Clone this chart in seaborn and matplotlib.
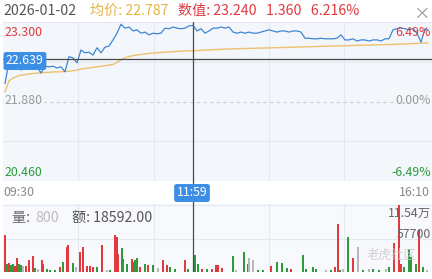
import matplotlib
matplotlib.use("Agg")
import numpy as np
import pandas as pd
import seaborn as sns
import matplotlib.pyplot as plt

# ---------------- data ----------------
trade_date = "2026-01-02"
time_labels = ["09:30", "11:59", "16:10"]
cursor_minute = 188
cursor_price = 22.639
cursor_avg = 22.787
cursor_value = 23.240
cursor_change = 1.360
cursor_pct = "6.216%"
prev_close = 21.880
price_high = 23.300
price_low = 20.460
pct_labels = ["6.49%", "0.00%", "-6.49%"]
cursor_vol = 800
cursor_amount = "18592.00"
vol_max_label = "11.54万"
vol_mid_label = "57700"
vol_max = 115400

price = [22.20, 22.59, 22.48, 22.55, 22.44, 22.51, 22.48, 22.51, 22.50, 22.39,
         22.51, 22.50, 22.51, 22.48, 22.50, 22.41, 22.68, 22.66, 22.57, 22.80,
         22.75, 22.76, 22.71, 22.84, 22.75, 22.85, 22.87, 22.98, 23.10, 23.26,
         23.19, 23.21, 23.14, 23.16, 23.10, 23.12, 23.07, 23.10, 23.09, 23.10,
         23.19, 23.18, 23.21, 23.19, 23.18, 23.19, 23.23, 23.24, 23.14, 23.18,
         23.10, 23.14, 23.19, 23.19, 23.21, 23.19, 23.21, 23.12, 23.10, 23.12,
         23.10, 23.12, 23.10, 23.10, 23.12, 23.14, 23.16, 23.14, 23.12, 23.14,
         23.14, 23.12, 23.14, 23.14, 23.12, 23.01, 23.01, 23.00, 23.00, 23.01,
         23.00, 23.00, 23.00, 23.01, 23.07, 22.98, 22.98, 23.00, 22.96, 22.98,
         22.98, 22.96, 22.98, 22.98, 22.96, 23.00, 23.00, 23.16, 23.18, 23.19,
         23.18, 23.16, 23.18, 23.10, 22.94, 23.18, 23.16]

avg_price = [22.05, 22.25, 22.30, 22.33, 22.35, 22.36, 22.37, 22.38, 22.39, 22.39,
             22.40, 22.40, 22.41, 22.41, 22.41, 22.42, 22.42, 22.43, 22.44, 22.46,
             22.47, 22.48, 22.49, 22.50, 22.51, 22.52, 22.53, 22.54, 22.58, 22.62,
             22.66, 22.68, 22.70, 22.71, 22.72, 22.73, 22.74, 22.745, 22.75, 22.755,
             22.76, 22.765, 22.77, 22.775, 22.78, 22.783, 22.786, 22.787, 22.79, 22.795,
             22.80, 22.80, 22.805, 22.81, 22.812, 22.815, 22.817, 22.82, 22.822, 22.824,
             22.826, 22.828, 22.83, 22.832, 22.834, 22.836, 22.838, 22.84, 22.842, 22.844,
             22.846, 22.848, 22.85, 22.852, 22.854, 22.856, 22.858, 22.86, 22.862, 22.864,
             22.866, 22.868, 22.87, 22.872, 22.874, 22.876, 22.878, 22.88, 22.882, 22.884,
             22.886, 22.888, 22.89, 22.892, 22.894, 22.896, 22.898, 22.90, 22.903, 22.906,
             22.909, 22.912, 22.915, 22.918, 22.921, 22.925, 22.928]

price_minutes = list(range(0, 424, 4)) + [423]

vol_minutes = [0, 2, 4, 6, 8, 10, 12, 14, 16, 18, 21, 24, 28, 30, 33, 37, 38, 42, 45, 50,
               55, 58, 62, 63, 68, 71, 75, 78, 82, 85, 88, 92, 97, 102, 105, 110, 112, 113,
               117, 118, 122, 127, 128, 130, 132, 135, 140, 143, 148, 153, 158, 162, 165,
               170, 180, 183, 190, 193, 197, 202, 207, 211, 213, 217, 228, 231, 239, 243,
               244, 248, 253, 258, 266, 272, 277, 282, 286, 298, 301, 308, 311, 321, 326,
               330, 333, 335, 338, 343, 348, 353, 358, 364, 368, 374, 381, 384, 389, 394,
               396, 399, 404, 406, 411, 414, 418, 422]
vol_values = [63700, 13800, 15500, 12000, 13800, 10300, 24100, 13800, 12000, 10300,
              10300, 20700, 27500, 6900, 5200, 20700, 13800, 5200, 3400, 3400,
              8600, 17200, 43000, 46500, 15500, 8600, 34400, 43000, 10300, 10300,
              8600, 8600, 46500, 3400, 3400, 63700, 60300, 31000, 41300, 22400,
              13800, 22400, 17200, 20700, 24100, 8600, 13800, 12000, 12000, 6900,
              20700, 12000, 8600, 5200, 20700, 5200, 29300, 13800, 5200, 5200,
              5200, 12000, 12000, 6900, 27500, 3400, 34400, 13800, 24100, 20700,
              3400, 3400, 10300, 17200, 15500, 6900, 5200, 29300, 5200, 8600,
              5200, 3400, 3400, 8600, 82600, 3400, 5200, 60300, 24100, 43000,
              3400, 5200, 5200, 3400, 5200, 8600, 49900, 115400, 13800, 8600,
              39600, 25800, 13800, 72300, 8600, 3400]
vol_dir = ["up", "down", "up", "down", "down", "up", "up", "down", "down", "flat",
           "up", "up", "up", "down", "flat", "up", "up", "down", "down", "down",
           "up", "down", "up", "up", "down", "flat", "up", "up", "up", "up",
           "up", "down", "up", "flat", "down", "up", "up", "up", "down", "down",
           "down", "up", "up", "down", "down", "up", "down", "up", "down", "flat",
           "up", "up", "down", "down", "up", "down", "down", "down", "up", "down",
           "up", "up", "up", "up", "down", "flat", "down", "down", "flat", "flat",
           "down", "down", "up", "down", "down", "down", "up", "down", "down", "down",
           "down", "flat", "down", "up", "up", "down", "flat", "down", "up", "flat",
           "down", "flat", "down", "down", "flat", "down", "up", "up", "up", "down",
           "down", "down", "down", "up", "down", "flat"]

# ---------------- styling ----------------
RED = "#e0393e"
GREEN = "#2f9a3c"
GRAY_TXT = "#9a9a9a"
BLUE = "#3e86d4"
YELLOW = "#efc06e"
BOX_BLUE = "#3b8ee6"
BG = "#f3f7fc"
GRID = "#e4e9f1"
dir_colors = {"up": RED, "down": GREEN, "flat": "#b8b8b8"}

sns.set_theme(style="white")
plt.rcParams['font.family'] = ['Noto Sans CJK SC', 'DejaVu Sans']

W, H = 432, 279
fig = plt.figure(figsize=(W / 100, H / 100), dpi=100)
fig.patch.set_facecolor("white")

def fx(px):
    return px / W

def fy(py):
    return 1 - py / H

XMIN, XMAX = -2, 427
grid_minutes = [73, 149, 264, 339]

# price panel
axp = fig.add_axes([fx(3), fy(181), 429 / W, 159 / H])
axp.set_facecolor(BG)
axp.set_xlim(XMIN, XMAX)
axp.set_ylim(price_low, price_high)
q = (price_high - price_low) / 4
for lv in [price_high, price_high - q, price_low + q]:
    axp.axhline(lv, color=GRID, lw=0.8, zorder=0)
axp.axhline(prev_close, color="#c9cdd3", lw=0.8, ls=(0, (3, 3)), zorder=1)
for gm in grid_minutes:
    axp.axvline(gm, color=GRID, lw=0.8, zorder=0)

df_p = pd.DataFrame({"minute": price_minutes, "price": price, "avg": avg_price})
sns.lineplot(data=df_p, x="minute", y="avg", ax=axp, color=YELLOW, lw=1.0, zorder=3)
sns.lineplot(data=df_p, x="minute", y="price", ax=axp, color=BLUE, lw=0.9, zorder=4)
axp.axhline(cursor_price, color="#4a4a4a", lw=0.9, zorder=5)
axp.set_xlabel("")
axp.set_ylabel("")
axp.set_xticks([])
axp.set_yticks([])
for s in axp.spines.values():
    s.set_visible(False)

# volume panel
axv = fig.add_axes([fx(3), fy(272), 429 / W, 68 / H])
axv.set_facecolor("#f7f9fd")
axv.set_xlim(XMIN, XMAX)
axv.set_ylim(0, vol_max * 68 / 67)
for gm in grid_minutes:
    axv.axvline(gm, color=GRID, lw=0.8, zorder=0)
axv.axhline(vol_max / 2, color=GRID, lw=0.8, zorder=0)
axv.axhline(vol_max, color=GRID, lw=0.8, zorder=0)
df_v = pd.DataFrame({"minute": vol_minutes, "vol": vol_values, "dir": vol_dir})
axv.bar(df_v["minute"], df_v["vol"], width=1.3,
        color=[dir_colors[d] for d in df_v["dir"]], linewidth=0, zorder=2)
axv.set_xticks([])
axv.set_yticks([])
for s in axv.spines.values():
    s.set_visible(False)

# crosshair vertical line across both panels
axc = fig.add_axes([fx(3), fy(272), 429 / W, 250 / H])
axc.set_xlim(XMIN, XMAX)
axc.axis("off")
axc.patch.set_alpha(0)
axc.axvline(cursor_minute, color="#4a4a4a", lw=0.9)

# ---------------- texts ----------------
fs = 10.2
fig.text(fx(3), fy(11), trade_date, color="#555555", fontsize=fs, va="center", ha="left")
fig.text(fx(90), fy(11), f"均价: {cursor_avg:.3f}", color="#e4b548", fontsize=fs, va="center", ha="left")
fig.text(fx(178), fy(11), f"数值: {cursor_value:.3f}   {cursor_change:.3f}   {cursor_pct}",
         color=RED, fontsize=fs, va="center", ha="left")
fig.text(fx(421), fy(14), "×", color="#9a9a9a", fontsize=12, va="center", ha="center")

fl = 8.9
fig.text(fx(5), fy(32), f"{price_high:.3f}", color=RED, fontsize=fl, va="center")
fig.text(fx(5), fy(101), f"{prev_close:.3f}", color=GRAY_TXT, fontsize=fl, va="center",
         bbox=dict(boxstyle="square,pad=0.05", fc=BG, ec="none"))
fig.text(fx(5), fy(172), f"{price_low:.3f}", color=GREEN, fontsize=fl, va="center")
fig.text(fx(6), fy(61), f"{cursor_price:.3f}", color="white", fontsize=fl, va="center",
         bbox=dict(boxstyle="round,pad=0.2,rounding_size=0.2", fc=BOX_BLUE, ec="none"))
fig.text(fx(431), fy(32), pct_labels[0], color=RED, fontsize=fl, va="center", ha="right", zorder=6)
fig.text(fx(431), fy(101), pct_labels[1], color=GRAY_TXT, fontsize=fl, va="center", ha="right",
         bbox=dict(boxstyle="square,pad=0.05", fc=BG, ec="none"))
fig.text(fx(431), fy(172), pct_labels[2], color=GREEN, fontsize=fl, va="center", ha="right")

fig.text(fx(3), fy(193), time_labels[0], color="#8a8a8a", fontsize=fl, va="center", ha="left")
fig.text(fx(192), fy(193), time_labels[1], color="white", fontsize=fl, va="center", ha="center",
         bbox=dict(boxstyle="round,pad=0.2,rounding_size=0.2", fc=BOX_BLUE, ec="none"), zorder=6)
fig.text(fx(430), fy(193), time_labels[2], color="#8a8a8a", fontsize=fl, va="center", ha="right")

fig.text(fx(12), fy(218), "量: ", color="#666666", fontsize=fs, va="center", ha="left")
fig.text(fx(35), fy(218), f"{cursor_vol}", color="#bbbbbb", fontsize=fs, va="center", ha="left")
fig.text(fx(72), fy(218), f"额: {cursor_amount}", color="#555555", fontsize=fs, va="center", ha="left")
fig.text(fx(431), fy(213), vol_max_label, color="#666666", fontsize=fl, va="center", ha="right")
fig.text(fx(431), fy(234), vol_mid_label, color="#666666", fontsize=fl, va="center", ha="right")
fig.text(fx(392), fy(255), "老虎社区", color="#c8c8c8", fontsize=9, va="center", ha="center", alpha=0.8)

fig.savefig("out.png", dpi=100, facecolor="white")
